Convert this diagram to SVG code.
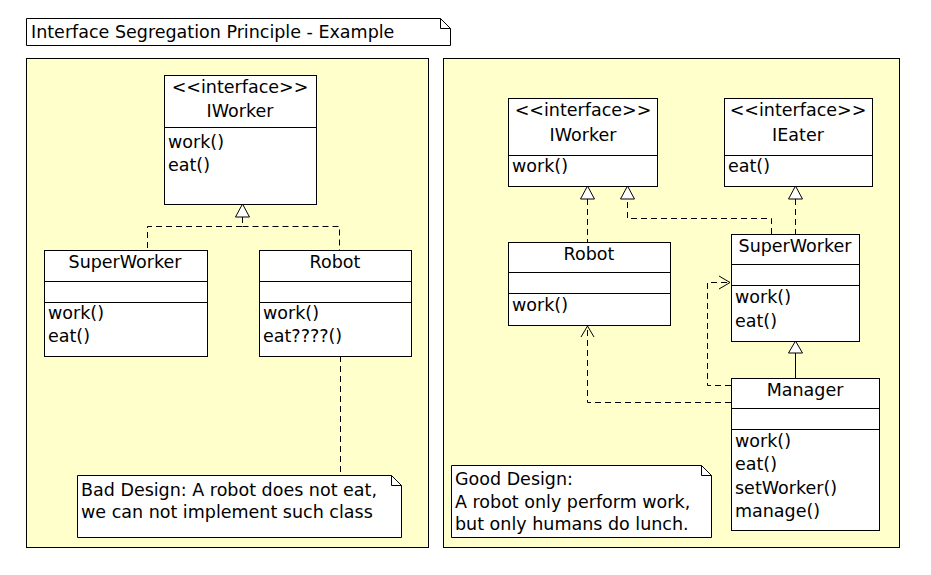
<svg xmlns="http://www.w3.org/2000/svg" width="931" height="575" viewBox="0 0 931 575">
<style>
text{font-family:"DejaVu Sans",sans-serif;font-size:17.5px;fill:#000}
.c{text-anchor:middle}
.b{fill:#fff;stroke:#000;stroke-width:1}
.p{fill:#ffffcc;stroke:#000;stroke-width:1}
.l{stroke:#000;stroke-width:1;fill:none}
.d{stroke:#000;stroke-width:1;fill:none;stroke-dasharray:6,4}
.t{fill:#fff;stroke:#000;stroke-width:1}
</style>
<rect width="931" height="575" fill="#fff"/>
<g id="title"><path class="b" d="M26.5,18.5H440.5L450.5,28.5V45.5H26.5Z"/><path class="l" d="M440.5,18.5V28.5H450.5"/><text x="31" y="38">Interface Segregation Principle - Example</text></g>
<g id="panelLeft"><rect class="p" x="26.5" y="58.5" width="402" height="489"/></g>
<g id="panelRight"><rect class="p" x="443.5" y="58.5" width="456" height="489"/></g>
<g id="connectors">
<path class="d" d="M242.5,217V226.5H147.5V250M242.5,226.5H339.5V250"/>
<path class="t" d="M242.5,204L235.5,217H249.5Z"/>
<path class="d" d="M340.5,356V475"/>
<path class="d" d="M587.5,199V242"/>
<path class="t" d="M587.5,186L580.5,199H594.5Z"/>
<path class="d" d="M771.5,234V218.5H627.5V199"/>
<path class="t" d="M627.5,186L620.5,199H634.5Z"/>
<path class="d" d="M795.5,199V234"/>
<path class="t" d="M795.5,186L788.5,199H802.5Z"/>
<path class="l" d="M795.5,353V378"/>
<path class="t" d="M795.5,341L788.5,353H802.5Z"/>
<path class="d" d="M731,385.5H707.5V282.5H729"/>
<path class="l" d="M719,276L730,282.5L719,289"/>
<path class="d" d="M731,402.5H587.5V327"/>
<path class="l" d="M581,337L587.5,326L594,337"/>
</g>
<g id="IWorkerL"><rect class="b" x="164.5" y="75.5" width="152" height="129"/><line class="l" x1="164.5" y1="127.5" x2="316.5" y2="127.5"/><text class="c" x="240" y="93">&lt;&lt;interface&gt;&gt;</text><text class="c" x="240" y="117">IWorker</text><text x="168" y="148">work()</text><text x="168" y="171">eat()</text></g>
<g id="SuperWorkerL"><rect class="b" x="44.5" y="250.5" width="163" height="106"/><line class="l" x1="44.5" y1="281.5" x2="207.5" y2="281.5"/><line class="l" x1="44.5" y1="302.5" x2="207.5" y2="302.5"/><text class="c" x="125" y="268">SuperWorker</text><text x="48" y="319">work()</text><text x="48" y="342">eat()</text></g>
<g id="RobotL"><rect class="b" x="259.5" y="250.5" width="152" height="106"/><line class="l" x1="259.5" y1="281.5" x2="411.5" y2="281.5"/><line class="l" x1="259.5" y1="302.5" x2="411.5" y2="302.5"/><text class="c" x="335" y="268">Robot</text><text x="263" y="319">work()</text><text x="263" y="342">eat????()</text></g>
<g id="noteBad"><path class="b" d="M77.5,475.5H391.5L401.5,485.5V537.5H77.5Z"/><path class="l" d="M391.5,475.5V485.5H401.5"/><text x="81" y="496">Bad Design: A robot does not eat,</text><text x="81" y="518">we can not implement such class</text></g>
<g id="IWorkerR"><rect class="b" x="508.5" y="98.5" width="149" height="88"/><line class="l" x1="508.5" y1="155.5" x2="657.5" y2="155.5"/><text class="c" x="583" y="116">&lt;&lt;interface&gt;&gt;</text><text class="c" x="583" y="141">IWorker</text><text x="512" y="172">work()</text></g>
<g id="IEater"><rect class="b" x="724.5" y="98.5" width="148" height="88"/><line class="l" x1="724.5" y1="155.5" x2="872.5" y2="155.5"/><text class="c" x="798" y="116">&lt;&lt;interface&gt;&gt;</text><text class="c" x="798" y="141">IEater</text><text x="728" y="172">eat()</text></g>
<g id="RobotR"><rect class="b" x="508.5" y="242.5" width="162" height="83"/><line class="l" x1="508.5" y1="272.5" x2="670.5" y2="272.5"/><line class="l" x1="508.5" y1="293.5" x2="670.5" y2="293.5"/><text class="c" x="589" y="260">Robot</text><text x="512" y="311">work()</text></g>
<g id="SuperWorkerR"><rect class="b" x="731.5" y="234.5" width="128" height="107"/><line class="l" x1="731.5" y1="264.5" x2="859.5" y2="264.5"/><line class="l" x1="731.5" y1="285.5" x2="859.5" y2="285.5"/><text class="c" x="795" y="252">SuperWorker</text><text x="735" y="303">work()</text><text x="735" y="327">eat()</text></g>
<g id="Manager"><rect class="b" x="731.5" y="378.5" width="148" height="152"/><line class="l" x1="731.5" y1="408.5" x2="879.5" y2="408.5"/><line class="l" x1="731.5" y1="429.5" x2="879.5" y2="429.5"/><text class="c" x="805" y="396">Manager</text><text x="735" y="447">work()</text><text x="735" y="470">eat()</text><text x="735" y="494">setWorker()</text><text x="735" y="517">manage()</text></g>
<g id="noteGood"><path class="b" d="M451.5,465.5H701.5L711.5,475.5V537.5H451.5Z"/><path class="l" d="M701.5,465.5V475.5H711.5"/><text x="455" y="485">Good Design:</text><text x="455" y="508">A robot only perform work,</text><text x="455" y="530">but only humans do lunch.</text></g>
</svg>
